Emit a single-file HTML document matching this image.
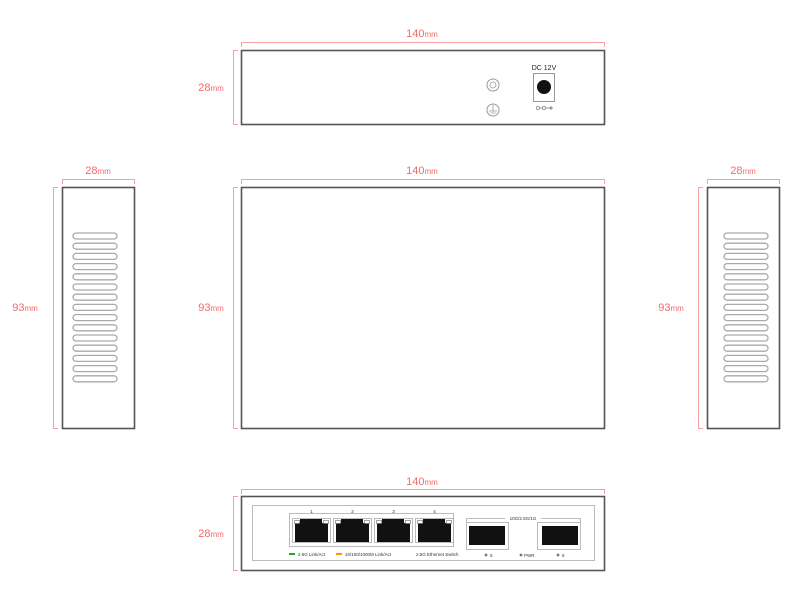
<!DOCTYPE html>
<html><head><meta charset="utf-8"><style>
html,body{margin:0;padding:0;background:#fff;}
svg{display:block;font-family:"Liberation Sans",sans-serif;}
.r{fill:#f26a6a;font-size:11px;}
.d{stroke:#f5a0a0;stroke-width:1;fill:none;}
.b{stroke:#555;stroke-width:1.6;fill:#fff;}
.s{stroke:#aaa;stroke-width:1.3;fill:#fff;}
.t{font-size:4.5px;fill:#333;}
</style></head><body>
<svg width="800" height="600" viewBox="0 0 800 600">
<!-- TOP VIEW -->
<path class="d" d="M241.5 47V42.5H604.5V47"/>
<path class="d" d="M238 50.5H233.5V124.5H238"/>
<text class="r" x="422" y="37" text-anchor="middle">140<tspan font-size="8">mm</tspan></text>
<text class="r" x="211" y="91" text-anchor="middle">28<tspan font-size="8">mm</tspan></text>
<rect class="b" x="241.5" y="50.5" width="363" height="74"/>
<circle cx="493" cy="85" r="6" fill="#fff" stroke="#999"/>
<circle cx="493" cy="85" r="3" fill="none" stroke="#999" stroke-width="0.8"/>
<circle cx="493" cy="110" r="6" fill="#fff" stroke="#999"/>
<path d="M493 105V111M489 111H497M490.5 113H495.5" stroke="#999" stroke-width="0.8"/>
<text x="544" y="70" font-size="7" text-anchor="middle" fill="#222">DC 12V</text>
<rect x="533.5" y="73.5" width="21" height="28" fill="#fff" stroke="#999"/>
<circle cx="544" cy="87" r="7" fill="#111"/>
<path d="M537 108H552" stroke="#999"/><circle cx="538" cy="108" r="1.6" fill="#fff" stroke="#999"/><circle cx="544" cy="108" r="1.6" fill="#fff" stroke="#999"/><circle cx="551" cy="108" r="1.6" fill="#999"/>
<!-- LEFT SIDE -->
<path class="d" d="M62.5 184V179.5H134.5V184"/>
<path class="d" d="M58 187.5H53.5V428.5H58"/>
<text class="r" x="98" y="174" text-anchor="middle">28<tspan font-size="8">mm</tspan></text>
<text class="r" x="25" y="311" text-anchor="middle">93<tspan font-size="8">mm</tspan></text>
<rect class="b" x="62.5" y="187.5" width="72" height="241"/>
<g id="slots">
<rect class="s" x="73" y="233" width="44" height="6" rx="3"/><rect class="s" x="73" y="243.2" width="44" height="6" rx="3"/><rect class="s" x="73" y="253.4" width="44" height="6" rx="3"/><rect class="s" x="73" y="263.6" width="44" height="6" rx="3"/><rect class="s" x="73" y="273.8" width="44" height="6" rx="3"/><rect class="s" x="73" y="284" width="44" height="6" rx="3"/><rect class="s" x="73" y="294.2" width="44" height="6" rx="3"/><rect class="s" x="73" y="304.4" width="44" height="6" rx="3"/><rect class="s" x="73" y="314.6" width="44" height="6" rx="3"/><rect class="s" x="73" y="324.8" width="44" height="6" rx="3"/><rect class="s" x="73" y="335" width="44" height="6" rx="3"/><rect class="s" x="73" y="345.2" width="44" height="6" rx="3"/><rect class="s" x="73" y="355.4" width="44" height="6" rx="3"/><rect class="s" x="73" y="365.6" width="44" height="6" rx="3"/><rect class="s" x="73" y="375.8" width="44" height="6" rx="3"/>
</g>
<!-- MIDDLE -->
<path class="d" d="M241.5 184V179.5H604.5V184"/>
<path class="d" d="M238 187.5H233.5V428.5H238"/>
<text class="r" x="422" y="174" text-anchor="middle">140<tspan font-size="8">mm</tspan></text>
<text class="r" x="211" y="311" text-anchor="middle">93<tspan font-size="8">mm</tspan></text>
<rect class="b" x="241.5" y="187.5" width="363" height="241"/>
<!-- RIGHT SIDE -->
<path class="d" d="M707.5 184V179.5H779.5V184"/>
<path class="d" d="M703 187.5H698.5V428.5H703"/>
<text class="r" x="743" y="174" text-anchor="middle">28<tspan font-size="8">mm</tspan></text>
<text class="r" x="671" y="311" text-anchor="middle">93<tspan font-size="8">mm</tspan></text>
<rect class="b" x="707.5" y="187.5" width="72" height="241"/>
<use href="#slots" transform="translate(651,0)"/>
<!-- FRONT -->
<path class="d" d="M241.5 494V489.5H604.5V494"/>
<path class="d" d="M238 496.5H233.5V570.5H238"/>
<text class="r" x="422" y="485" text-anchor="middle">140<tspan font-size="8">mm</tspan></text>
<text class="r" x="211" y="537" text-anchor="middle">28<tspan font-size="8">mm</tspan></text>
<rect class="b" x="241.5" y="496.5" width="363" height="74"/>
<rect x="252.5" y="505.5" width="342" height="55" fill="#fff" stroke="#bbb"/>
<rect x="289.5" y="513.5" width="164" height="33" fill="#fff" stroke="#bbb"/>
<g>
<path d="M300 519H322V523H328V542H295V523H300Z" fill="#111"/>
<rect x="292.5" y="518.5" width="38" height="24" fill="none" stroke="#aaa" stroke-width="0.8"/>
<rect x="294.5" y="520.5" width="5" height="3" fill="#fff" stroke="#666" stroke-width="0.6"/>
<rect x="323.5" y="520.5" width="5" height="3" fill="#fff" stroke="#666" stroke-width="0.6"/>
<text class="t" x="311.5" y="513" text-anchor="middle">1</text>
</g>
<g transform="translate(41,0)"><path d="M300 519H322V523H328V542H295V523H300Z" fill="#111"/><rect x="292.5" y="518.5" width="38" height="24" fill="none" stroke="#aaa" stroke-width="0.8"/><rect x="294.5" y="520.5" width="5" height="3" fill="#fff" stroke="#666" stroke-width="0.6"/><rect x="323.5" y="520.5" width="5" height="3" fill="#fff" stroke="#666" stroke-width="0.6"/><text class="t" x="311.5" y="513" text-anchor="middle">2</text></g>
<g transform="translate(82,0)"><path d="M300 519H322V523H328V542H295V523H300Z" fill="#111"/><rect x="292.5" y="518.5" width="38" height="24" fill="none" stroke="#aaa" stroke-width="0.8"/><rect x="294.5" y="520.5" width="5" height="3" fill="#fff" stroke="#666" stroke-width="0.6"/><rect x="323.5" y="520.5" width="5" height="3" fill="#fff" stroke="#666" stroke-width="0.6"/><text class="t" x="311.5" y="513" text-anchor="middle">3</text></g>
<g transform="translate(123,0)"><path d="M300 519H322V523H328V542H295V523H300Z" fill="#111"/><rect x="292.5" y="518.5" width="38" height="24" fill="none" stroke="#aaa" stroke-width="0.8"/><rect x="294.5" y="520.5" width="5" height="3" fill="#fff" stroke="#666" stroke-width="0.6"/><rect x="323.5" y="520.5" width="5" height="3" fill="#fff" stroke="#666" stroke-width="0.6"/><text class="t" x="311.5" y="513" text-anchor="middle">4</text></g>
<rect x="289" y="553" width="6" height="2" fill="#2a2"/><text class="t" x="298" y="556">2.5G Link/Act</text>
<rect x="336" y="553" width="6" height="2" fill="#f90"/><text class="t" x="345" y="556">10/100/1000M Link/Act</text>
<text class="t" x="416" y="556">2.5G Ethernet Switch</text>
<path d="M466.5 522V518.5H505M541 518.5H580.5V522" stroke="#aaa" fill="none" stroke-width="0.8"/>
<text class="t" x="523" y="520" text-anchor="middle">10G/2.5G/1G</text>
<rect x="466.5" y="522.5" width="42" height="27" fill="#fff" stroke="#bbb"/>
<rect x="469" y="526" width="36" height="19" fill="#111"/>
<rect x="537.5" y="522.5" width="43" height="27" fill="#fff" stroke="#bbb"/>
<rect x="542" y="526" width="36" height="19" fill="#111"/>
<circle cx="486" cy="555" r="1.4" fill="#777"/><text class="t" x="490" y="557">5</text>
<circle cx="521" cy="555" r="1.4" fill="#777"/><text class="t" x="524" y="557">PWR</text>
<circle cx="558" cy="555" r="1.4" fill="#777"/><text class="t" x="562" y="557">6</text>
</svg>
</body></html>
